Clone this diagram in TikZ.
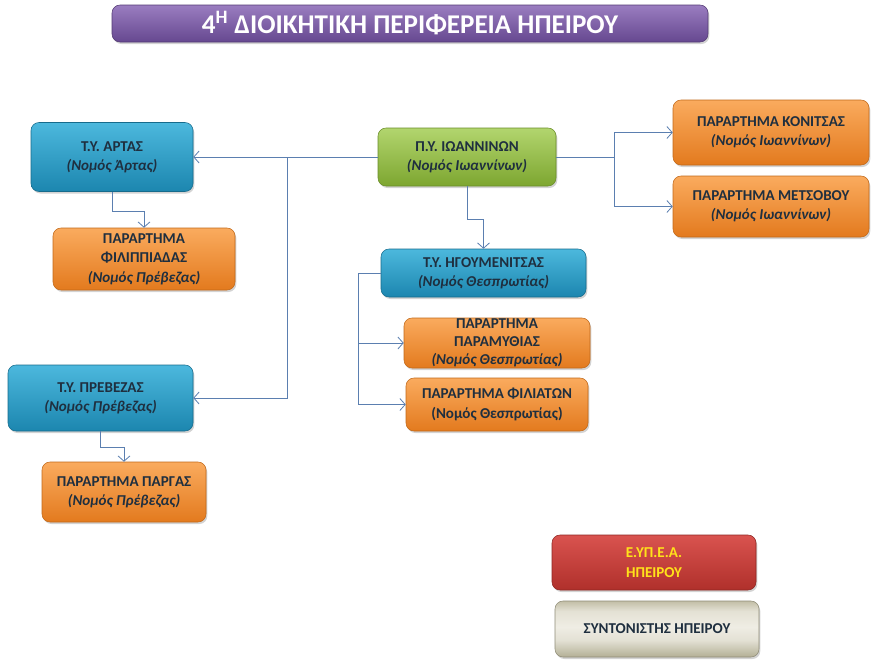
\documentclass[tikz,border=0pt]{standalone}
\usepackage{fontspec}
\setmainfont{Carlito}[BoldFont={Carlito Bold},BoldItalicFont={Carlito Bold Italic},ItalicFont={Carlito Italic}]
\usepackage{xcolor}
\usepackage{tikz}
\usetikzlibrary{arrows.meta,shadows}
\definecolor{ink}{HTML}{1F2F3F}
\definecolor{link}{HTML}{5B7FB0}
\definecolor{bluetop}{HTML}{4CB8DD}
\definecolor{bluebot}{HTML}{1C86AF}
\definecolor{orangetop}{HTML}{FAAB5E}
\definecolor{orangebot}{HTML}{E37A1E}
\definecolor{greentop}{HTML}{B2D56E}
\definecolor{greenbot}{HTML}{7DA630}
\definecolor{purpletop}{HTML}{9A7DC0}
\definecolor{purplebot}{HTML}{664890}
\definecolor{redtop}{HTML}{D9534F}
\definecolor{redbot}{HTML}{B0302B}
\definecolor{beigetop}{HTML}{C2BEA6}
\definecolor{beigemid}{HTML}{EFEDE4}
\definecolor{beigebot}{HTML}{B3AF95}
\definecolor{yellowtxt}{HTML}{FFE21A}
\pgfdeclareverticalshading{beigeshade}{100bp}{color(0bp)=(beigebot); color(25bp)=(beigebot); color(40bp)=(beigemid!80!beigebot); color(52bp)=(beigemid); color(66bp)=(beigemid!75!beigetop); color(75bp)=(beigetop); color(100bp)=(beigetop)}

\begin{document}
\begin{tikzpicture}[
  x=0.75pt,y=-0.75pt,
  box/.style={rounded corners=6pt,align=center,inner sep=0pt,text=ink,
    font=\fontsize{11.3}{14.5}\selectfont\bfseries,
    drop shadow={opacity=0.35,shadow xshift=1pt,shadow yshift=-1.5pt}},
  size/.style 2 args={minimum width=#1*0.75pt,minimum height=#2*0.75pt},
  office/.style={box,top color=bluetop,bottom color=bluebot,draw=bluebot!80!black,line width=0.4pt},
  annex/.style={box,top color=orangetop,bottom color=orangebot,draw=orangebot!85!black,line width=0.4pt},
  head/.style={box,top color=greentop,bottom color=greenbot,draw=greenbot!85!black,line width=0.4pt},
  arrow/.style={-{Straight Barb[length=4pt,width=9pt]},draw=link,line width=0.6pt}
]
\useasboundingbox (0,0) rectangle (875,665);
\node[box,size={596}{37},top color=purpletop,bottom color=purplebot,draw=purplebot!80!black,
  text=white,font=\fontsize{20.3}{22}\selectfont\bfseries] (title) at (410,23.5)
  {4\textsuperscript{Η} ΔΙΟΙΚΗΤΙΚΗ ΠΕΡΙΦΕΡΕΙΑ ΗΠΕΙΡΟΥ};
\node[head,size={178}{58}] (ioannina) at (467,157) {Π.Υ. ΙΩΑΝΝΙΝΩΝ\\\itshape(Νομός Ιωαννίνων)};
\node[office,size={162}{69}] (arta) at (112,157) {Τ.Υ. ΑΡΤΑΣ\\\itshape(Νομός Άρτας)};
\node[annex,size={182}{62}] (filippiada) at (144,259) {ΠΑΡΑΡΤΗΜΑ\\ΦΙΛΙΠΠΙΑΔΑΣ\\\itshape(Νομός Πρέβεζας)};
\node[annex,size={196}{65}] (konitsa) at (771,132.5) {ΠΑΡΑΡΤΗΜΑ ΚΟΝΙΤΣΑΣ\\\itshape(Νομός Ιωαννίνων)};
\node[annex,size={196}{61}] (metsovo) at (771,206.5) {ΠΑΡΑΡΤΗΜΑ ΜΕΤΣΟΒΟΥ\\\itshape(Νομός Ιωαννίνων)};
\node[office,size={205}{48}] (igoumenitsa) at (483.5,273) {Τ.Υ. ΗΓΟΥΜΕΝΙΤΣΑΣ\\\itshape(Νομός Θεσπρωτίας)};
\node[annex,size={186}{50},font=\fontsize{11.3}{13.5}\selectfont\bfseries] (paramythia) at (497,343) {ΠΑΡΑΡΤΗΜΑ\\ΠΑΡΑΜΥΘΙΑΣ\\\itshape(Νομός Θεσπρωτίας)};
\node[annex,size={182}{53}] (filiates) at (497,404.5) {ΠΑΡΑΡΤΗΜΑ ΦΙΛΙΑΤΩΝ\\(Νομός Θεσπρωτίας)};
\node[office,size={185}{66}] (preveza) at (100.5,398) {Τ.Υ. ΠΡΕΒΕΖΑΣ\\\itshape(Νομός Πρέβεζας)};
\node[annex,size={164}{60}] (parga) at (124,492) {ΠΑΡΑΡΤΗΜΑ ΠΑΡΓΑΣ\\\itshape(Νομός Πρέβεζας)};
\node[box,size={204}{55},top color=redtop,bottom color=redbot,draw=redbot!80!black,text=yellowtxt] (eypea) at (654,562.5) {Ε.ΥΠ.Ε.Α.\\ΗΠΕΙΡΟΥ};
\node[box,size={204}{56},shading=beigeshade,draw=beigebot!80!black] (coordinator) at (657,629) {ΣΥΝΤΟΝΙΣΤΗΣ ΗΠΕΙΡΟΥ};
% connectors
\coordinate (westjoin) at (287,157);
\coordinate (eastjoin) at (614,157);
\coordinate (igjoin) at (358,273);
\draw[arrow] (ioannina.west) -- (arta.east);
\draw[arrow] (westjoin) |- (preveza.east);
\draw[arrow] (arta.south) -- ++(0,20) -| (filippiada.north);
\draw[arrow] (ioannina.south) -- ++(0,33) -| (igoumenitsa.north);
\draw[draw=link,line width=0.6pt] (ioannina.east) -- (eastjoin);
\draw[arrow] (eastjoin) |- (konitsa.west);
\draw[arrow] (eastjoin) |- (metsovo.west);
\draw[draw=link,line width=0.6pt] (igoumenitsa.west) -- (igjoin);
\draw[arrow] (igjoin) |- (paramythia.west);
\draw[arrow] (igjoin) |- (filiates.west);
\draw[arrow] (preveza.south) -- ++(0,16) -| (parga.north);
\end{tikzpicture}
\end{document}
